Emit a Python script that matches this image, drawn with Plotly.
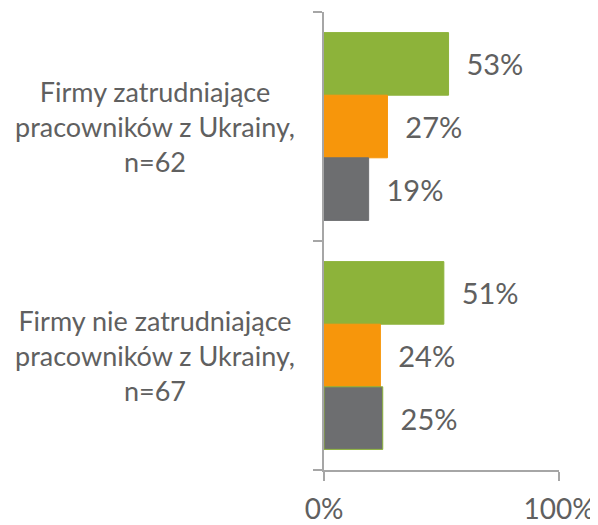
import plotly.graph_objects as go

categories = ["Firmy zatrudniające<br>pracowników z Ukrainy,<br>n=62",
              "Firmy nie zatrudniające<br>pracowników z Ukrainy,<br>n=67"]
series_green = [53, 51]
series_orange = [27, 24]
series_gray = [19, 25]
x_ticks = [0, 100]
x_tick_labels = ["0%", "100%"]

FONT = "Lato"
TXT = "#606060"
AX = "#A6A6A6"

fig = go.Figure()
for vals, col, lc in [(series_green, "#8DB33A", ["#8DB33A", "#8DB33A"]),
                      (series_orange, "#F7960B", ["#F7960B", "#F7960B"]),
                      (series_gray, "#6D6E70", ["#6D6E70", "#8DB33A"])]:
    fig.add_trace(go.Bar(
        y=list(range(len(categories))), x=vals, orientation="h",
        marker=dict(color=col, line=dict(color=lc, width=1)),
        text=[f"\u00a0\u00a0{v}%" for v in vals],
        textposition="outside", cliponaxis=False,
        textfont=dict(family=FONT, size=29, color=TXT),
        showlegend=False, hoverinfo="skip"))

for i, c in enumerate(categories):
    fig.add_annotation(x=-0.72, xref="paper", y=i, yref="y", text=c,
                       showarrow=False, xanchor="center", align="center",
                       font=dict(family=FONT, size=27, color=TXT))

fig.update_layout(
    width=590, height=517, barmode="group", bargap=0.18, bargroupgap=0,
    margin=dict(l=316, r=39, t=4, b=55, autoexpand=False),
    plot_bgcolor="white", paper_bgcolor="white",
    font=dict(family=FONT, color=TXT),
)
fig.update_xaxes(range=[0, 100], tickvals=x_ticks, ticktext=x_tick_labels,
                 automargin=False, ticklabelstandoff=4,
                 showgrid=False, zeroline=False, showline=True, linecolor=AX,
                 linewidth=2, ticks="outside", ticklen=9, tickwidth=2,
                 tickcolor=AX, tickfont=dict(family=FONT, size=28, color=TXT))
fig.update_yaxes(type="linear", range=[1.5, -0.5], tickvals=[-0.5, 0.5, 1.5],
                 automargin=False,
                 showticklabels=False, showgrid=False, zeroline=False,
                 showline=True, linecolor=AX, linewidth=2, ticks="outside",
                 ticklen=9, tickwidth=2, tickcolor=AX)

fig.write_html("out.html")
